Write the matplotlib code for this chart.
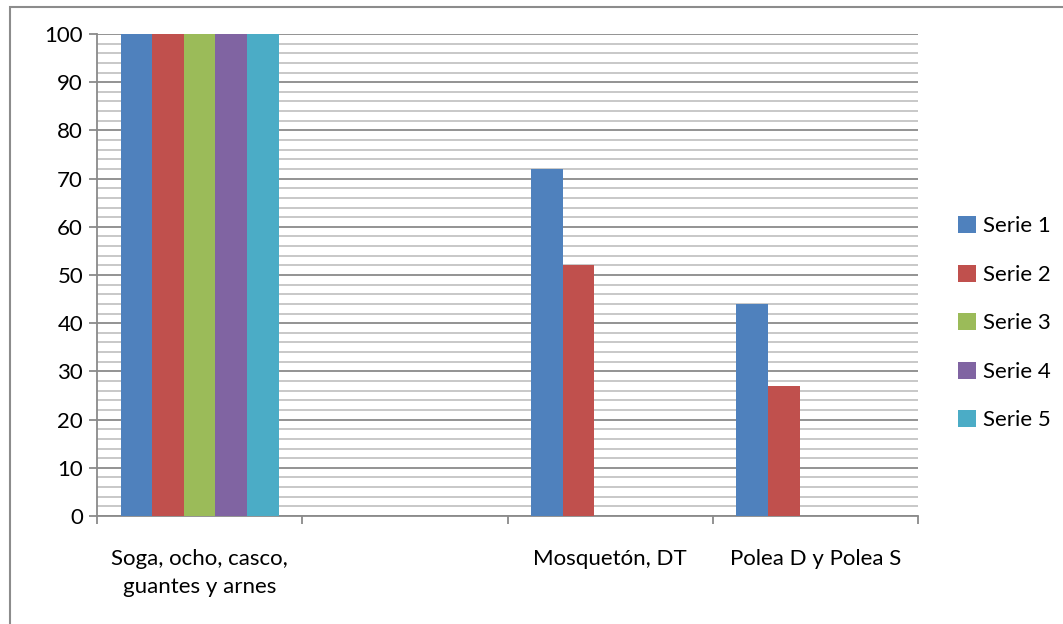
import matplotlib.pyplot as plt
import numpy as np
from matplotlib.patches import Rectangle

categories = ["Soga, ocho, casco,\nguantes y arnes", "", "Mosquetón, DT", "Polea D y Polea S"]
series_names = ["Serie 1", "Serie 2", "Serie 3", "Serie 4", "Serie 5"]
serie1 = [100, 0, 72, 44]
serie2 = [100, 0, 52, 27]
serie3 = [100, 0, 0, 0]
serie4 = [100, 0, 0, 0]
serie5 = [100, 0, 0, 0]
colors = ["#4f81bd", "#c0504d", "#9bbb59", "#8064a2", "#4bacc6"]

plt.rcParams['font.family'] = ['Lato', 'DejaVu Sans']
fs = 16

fig = plt.figure(figsize=(10.63, 6.24), dpi=100)
ax = fig.add_axes([97 / 1063, 1 - 516 / 624, (918 - 97) / 1063, (516 - 34) / 624])

# borde del gráfico (solo se ven arriba e izquierda)
fig.patches.append(Rectangle((10 / 1063, -0.1), 1.2, 1 - 7 / 624 + 0.1,
                             transform=fig.transFigure, fill=False,
                             edgecolor="#8c8c8c", linewidth=1.5))

x = np.arange(len(categories))
width = 0.154
all_series = [serie1, serie2, serie3, serie4, serie5]
for i, (vals, name, c) in enumerate(zip(all_series, series_names, colors)):
    ax.bar(x + (i - 2) * width, vals, width, color=c, label=name, zorder=3)

ax.set_xlim(-0.5, len(categories) - 0.5)
ax.set_ylim(0, 100)

# cuadrícula mayor y menor
for v in np.arange(0, 101, 2):
    if v % 10 == 0:
        ax.axhline(v, color="#8a8a8a", linewidth=1.3, zorder=1)
    else:
        ax.axhline(v, color="#c4c4c4", linewidth=1.3, zorder=1)

ax.set_yticks(np.arange(0, 101, 10))
ax.set_yticks(np.arange(0, 101, 2), minor=True)
ax.set_xticks(np.arange(-0.5, len(categories)), minor=True)
ax.set_xticks(x)
ax.set_xticklabels(categories, fontsize=fs, linespacing=1.45)
ax.tick_params(axis='x', which='major', length=0, pad=24)
ax.tick_params(axis='x', which='minor', length=6, width=1.3, color="#8a8a8a", direction='out')
ax.tick_params(axis='y', which='major', length=6, width=1.3, color="#8a8a8a", labelsize=fs, pad=4)
ax.tick_params(axis='y', which='minor', length=0)

for s in ["top", "right"]:
    ax.spines[s].set_visible(False)
for s in ["left", "bottom"]:
    ax.spines[s].set_color("#8a8a8a")
    ax.spines[s].set_linewidth(1.3)

leg = ax.legend(loc="center left", bbox_to_anchor=(1.038, 0.4), frameon=False,
                fontsize=fs, handlelength=0.8, handleheight=0.8,
                handletextpad=0.3, labelspacing=1.27, borderaxespad=0)

fig.savefig("out.png", dpi=100)
